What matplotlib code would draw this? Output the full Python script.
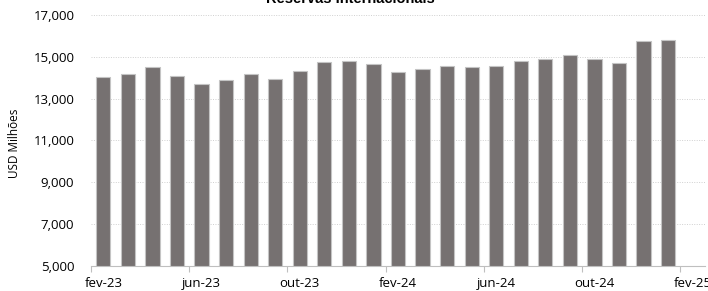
import numpy as np
import matplotlib.pyplot as plt

# --- DADOS: Reservas Internacionais (USD milhões), fev-23 a jan-25 ---
meses = ['fev-23', 'mar-23', 'abr-23', 'mai-23', 'jun-23', 'jul-23', 'ago-23', 'set-23',
         'out-23', 'nov-23', 'dez-23', 'jan-24', 'fev-24', 'mar-24', 'abr-24', 'mai-24',
         'jun-24', 'jul-24', 'ago-24', 'set-24', 'out-24', 'nov-24', 'dez-24', 'jan-25']
reservas = [14040, 14180, 14520, 14100, 13720, 13870, 14180, 13930,
            14340, 14730, 14790, 14680, 14280, 14410, 14580, 14500,
            14540, 14790, 14920, 15110, 14890, 14700, 15770, 15790]
rotulos_x = ['fev-23', 'jun-23', 'out-23', 'fev-24', 'jun-24', 'out-24', 'fev-25']

plt.rcParams['font.family'] = ['Open Sans', 'DejaVu Sans']

fig = plt.figure(figsize=(7.08, 2.91), dpi=100)
ax = fig.add_axes([91 / 708, 1 - 266 / 291, 614 / 708, 251 / 291])

x = np.arange(len(reservas))
ax.bar(x, np.array(reservas) - 5000, bottom=5000, width=0.58, color='#767171',
       edgecolor='#c4c4c4', linewidth=0.8, zorder=3)

ax.set_ylim(5000, 17000)
ax.set_yticks(range(5000, 17001, 2000))
ax.set_yticklabels([f'{v:,}' for v in range(5000, 17001, 2000)], fontsize=9.5)
ax.grid(axis='y', color='#d0d0d0', linestyle=(0, (1, 1.5)), linewidth=0.7, zorder=0)
ax.set_xlim(-0.5, 24.5)

# marcas nas fronteiras dos meses, rótulos centrados no mês
ax.set_xticks(np.arange(-0.5, 25, 4))
ax.set_xticklabels([])
ax.set_xticks(np.arange(0, 25, 4), minor=True)
ax.set_xticklabels(rotulos_x, minor=True, fontsize=9.5)
ax.tick_params(axis='x', which='major', length=4, color='#bfbfbf', direction='out')
ax.tick_params(axis='x', which='minor', length=0, pad=8)
ax.tick_params(axis='y', length=0, pad=12)

for s in ['top', 'right', 'left']:
    ax.spines[s].set_visible(False)
ax.spines['bottom'].set_color('#bfbfbf')
ax.spines['bottom'].set_linewidth(0.8)

ax.set_ylabel('USD Milhões', fontsize=8.5)
ax.yaxis.set_label_coords(-70 / 614, 0.49)

fig.text(350 / 708, 1 - 3 / 291, 'Reservas Internacionais', ha='center', va='baseline',
         fontsize=10.5, fontweight='bold', family=['Liberation Sans', 'DejaVu Sans'])

fig.savefig('out.png', dpi=100)
